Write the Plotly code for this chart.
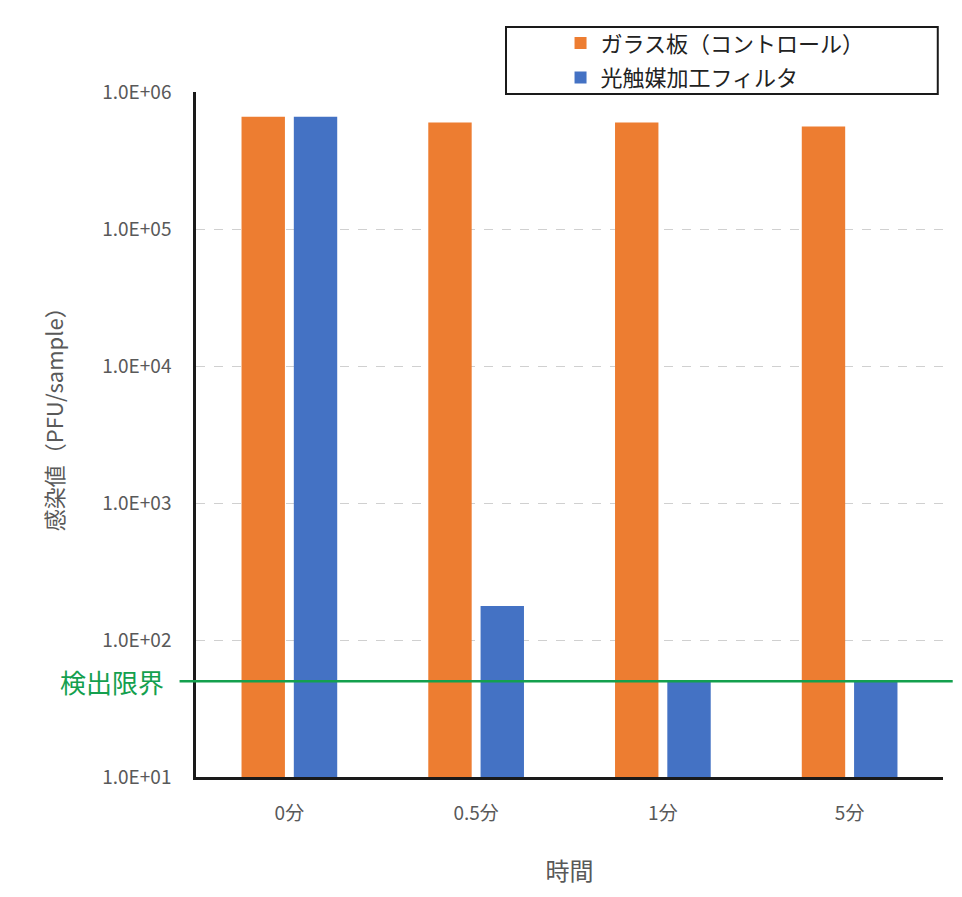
import plotly.graph_objects as go

categories = ["0分", "0.5分", "1分", "5分"]
control_values = [6.6e5, 6.0e5, 6.0e5, 5.6e5]
filter_values = [6.6e5, 177, 51, 51]
series_names = ["ガラス板（コントロール）", "光触媒加工フィルタ"]
detection_limit = 50
tick_vals = [1e1, 1e2, 1e3, 1e4, 1e5, 1e6]
tick_text = ["1.0E+01", "1.0E+02", "1.0E+03", "1.0E+04", "1.0E+05", "1.0E+06"]

FONT = "Noto Sans CJK JP, Open Sans, sans-serif"
GRAY = "#595959"
GREEN = "#14A04E"

fig = go.Figure()
fig.add_trace(go.Bar(x=categories, y=control_values, name=series_names[0],
                     legendgroup="a",
                     marker=dict(color="#ED7D31", line=dict(width=0))))
fig.add_trace(go.Bar(x=categories, y=filter_values, name=series_names[1],
                     legendgroup="b",
                     marker=dict(color="#4472C4", line=dict(width=0))))

# detection limit line (extends beyond plot area)
fig.add_shape(type="line", xref="paper", yref="y", x0=-0.022, x1=1.013,
              y0=detection_limit, y1=detection_limit,
              line=dict(color=GREEN, width=2.5), layer="above")
fig.add_annotation(text="検出限界", xref="paper", yref="y", x=-0.040, y=1.6990,
                   xanchor="right", yanchor="middle", showarrow=False,
                   font=dict(family=FONT, size=26, color=GREEN))

# y-axis title
fig.add_annotation(text="感染値（PFU/sample）", xref="paper", yref="paper",
                   x=-0.191, y=0.53, xanchor="center", yanchor="middle",
                   textangle=-90, showarrow=False,
                   font=dict(family=FONT, size=22, color=GRAY))

# legend box
fig.add_shape(type="rect", xref="paper", yref="paper",
              x0=0.415, x1=0.993, y0=0.997, y1=1.095,
              line=dict(color="#1a1a1a", width=2), fillcolor="rgba(0,0,0,0)")

fig.update_layout(
    width=962, height=897,
    margin=dict(l=188, r=27, t=84, b=128),
    paper_bgcolor="white", plot_bgcolor="white",
    font=dict(family=FONT, color=GRAY),
    barmode="group", bargap=0.44, bargroupgap=0.17,
    showlegend=True,
    legend=dict(x=0.488, y=1.102, xanchor="left", yanchor="top",
                bgcolor="rgba(0,0,0,0)", borderwidth=0,
                font=dict(family=FONT, size=22, color="#222222"),
                tracegroupgap=3, itemwidth=30),
    xaxis=dict(showline=True, linecolor="#1a1a1a", linewidth=2.5,
               showgrid=False, ticks="", tickfont=dict(size=19, color=GRAY),
               ticklabelstandoff=17,
               title=dict(text="時間", font=dict(size=24, color=GRAY), standoff=40)),
    yaxis=dict(type="log", range=[1, 6], tickvals=tick_vals, ticktext=tick_text,
               showline=True, linecolor="#1a1a1a", linewidth=2.5,
               showgrid=True, gridcolor="#d0d0d0", griddash="dash", gridwidth=1,
               ticks="", tickfont=dict(size=19, color=GRAY), ticklabelstandoff=18),
)

fig.write_html("out.html")
